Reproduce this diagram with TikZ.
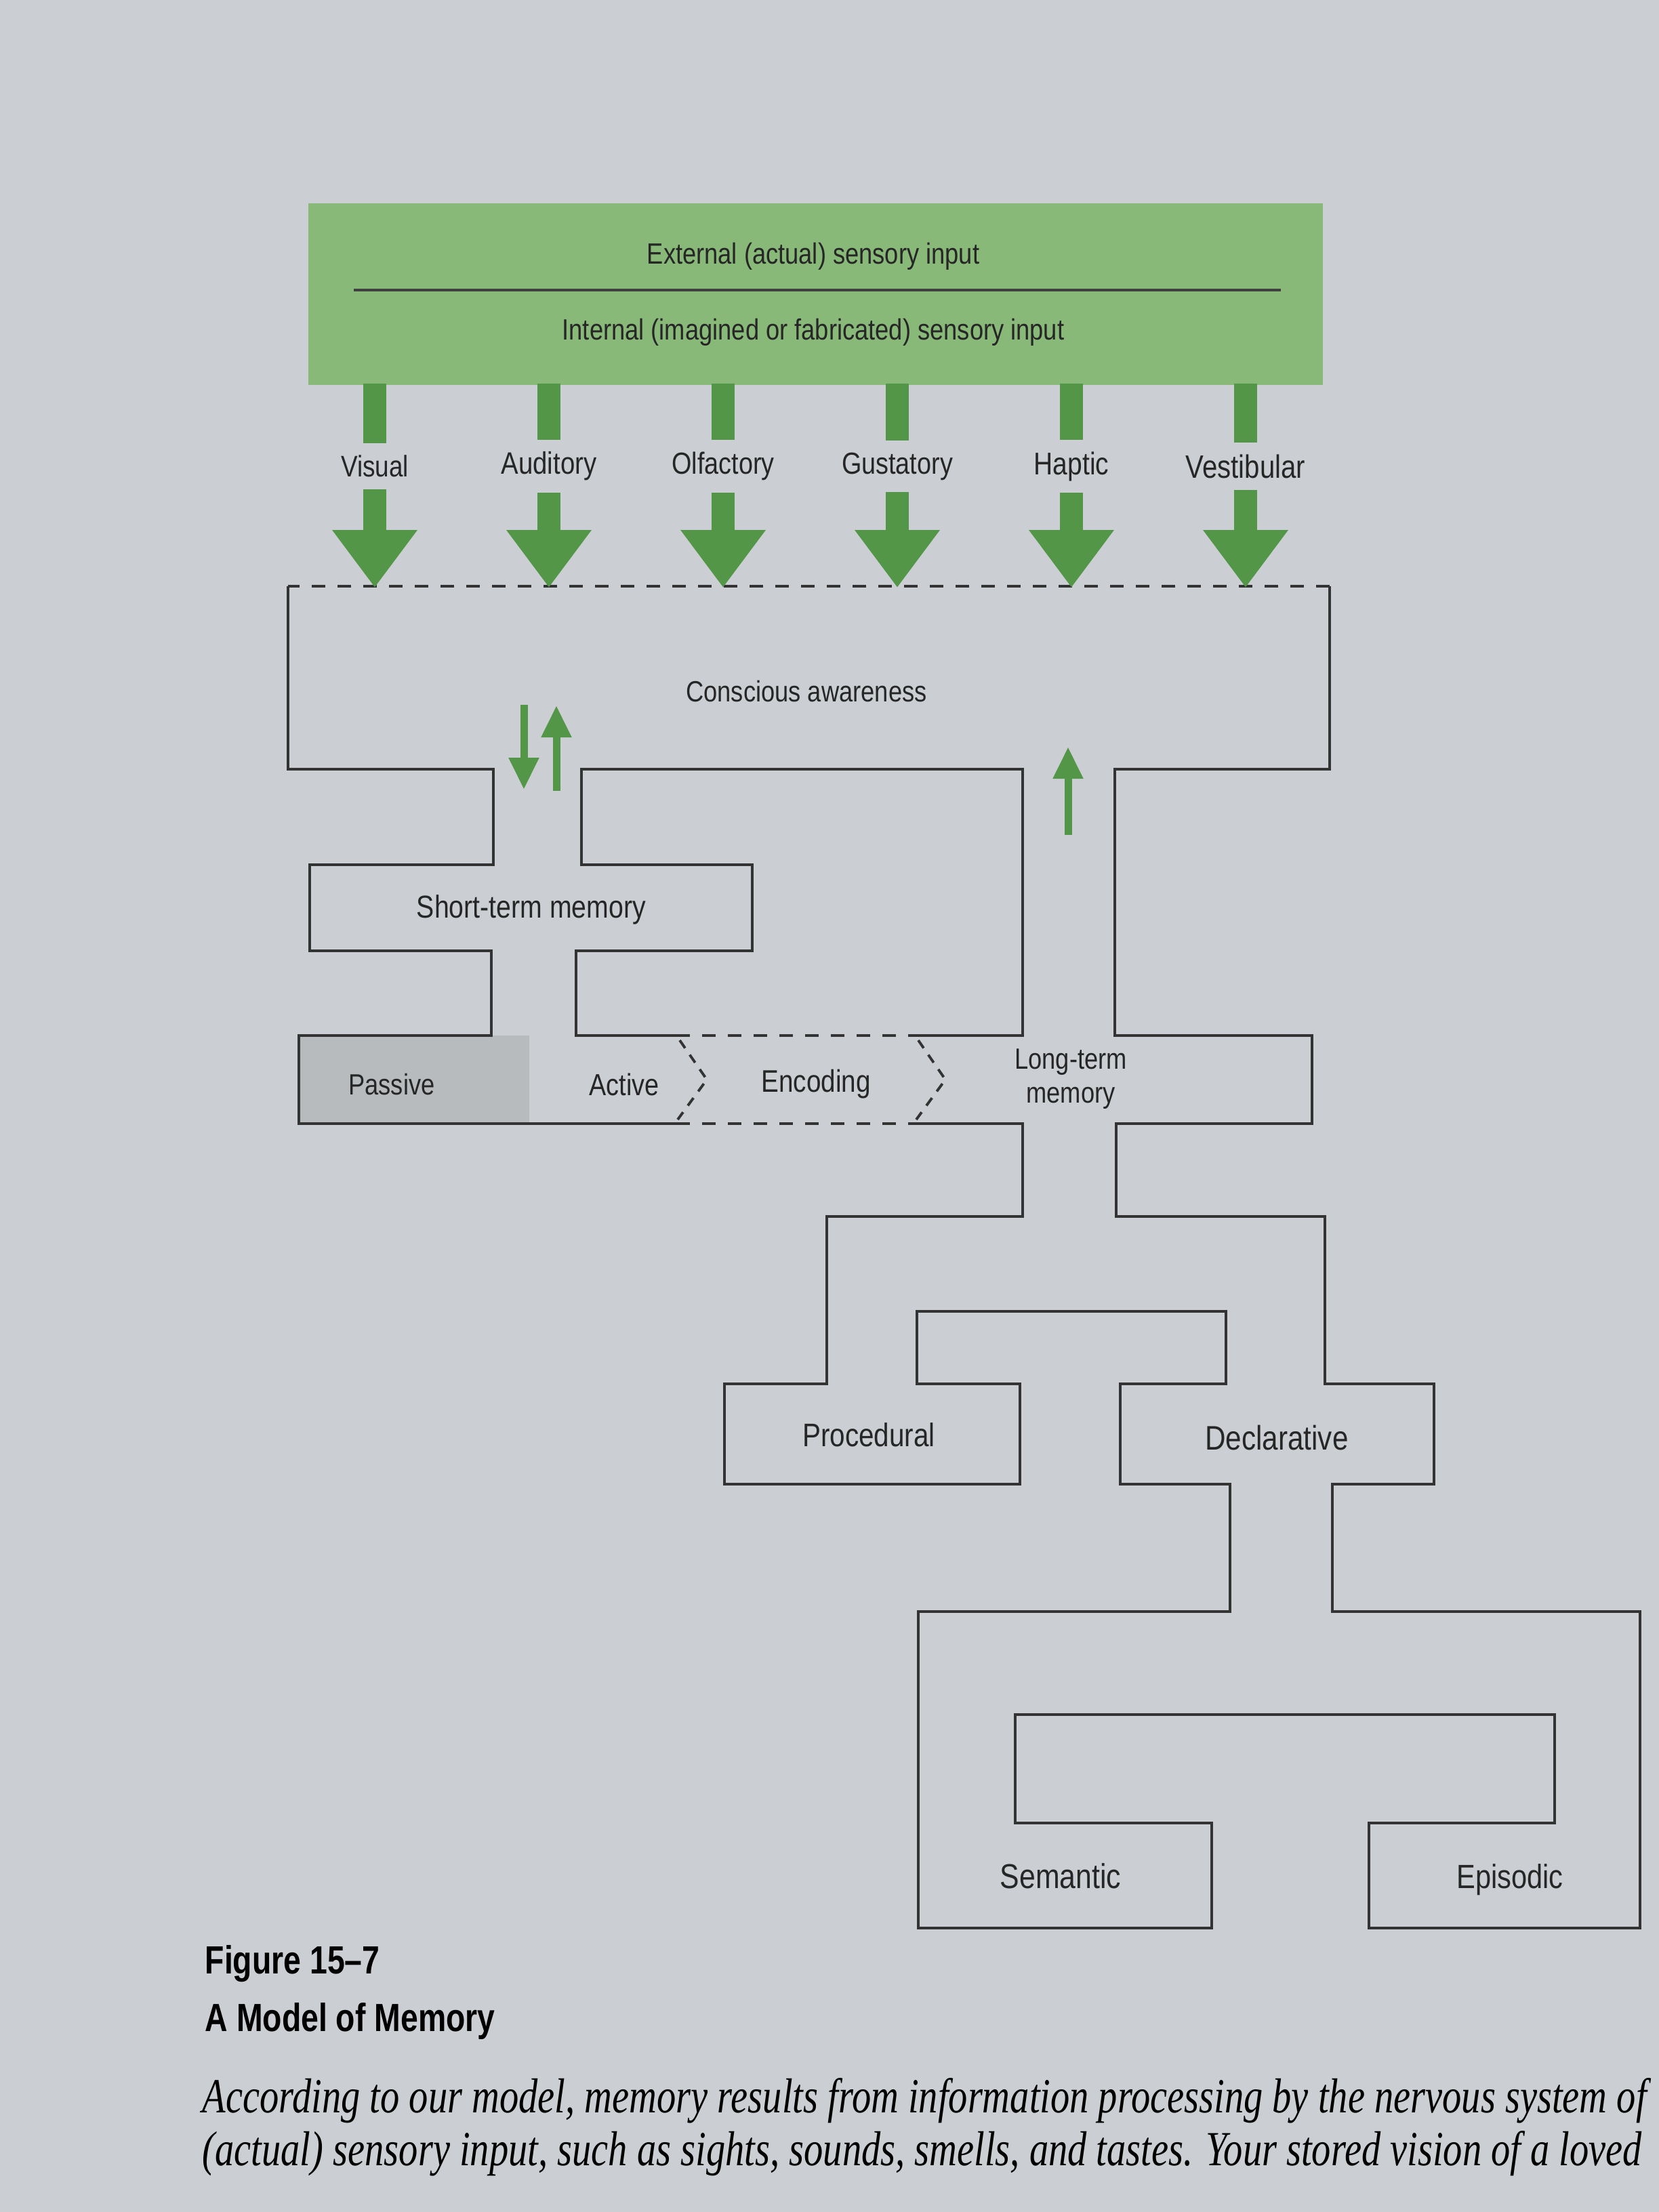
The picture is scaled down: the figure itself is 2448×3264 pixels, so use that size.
\documentclass[tikz,border=0pt]{standalone}
\usepackage{fontspec}
\setmainfont{Liberation Sans}[FakeStretch=0.84]
\newfontfamily\capfont{Liberation Sans}[FakeStretch=0.8]
\newfontfamily\bodyfont{Liberation Serif}[FakeStretch=0.78]
\usetikzlibrary{arrows.meta}
\definecolor{paper}{RGB}{203,207,211}
\definecolor{passivegray}{RGB}{184,187,190}
\definecolor{bandgreen}{RGB}{137,185,120}
\definecolor{arrowgreen}{RGB}{83,150,72}
\tikzset{
  lbl/.style={font=\fontsize{12.3}{14}\selectfont, text=black!85, align=center},
  lblat/.style={font=\fontsize{#1}{#1}\selectfont, text=black!85, align=center},
  wall/.style={line width=1.1pt, black!80, line join=miter},
  gap/.style={wall, dash pattern=on 0.2cm off 0.18cm},
  chev/.style={wall, dash pattern=on 0.14cm off 0.12cm},
  sense/.style={arrowgreen, line width=0.34cm, -{Triangle[width=1.2cm,length=0.85cm]}},
  flow/.style={arrowgreen, line width=0.11cm, -{Triangle[width=0.42cm,length=0.47cm]}},
}

\begin{document}
\begin{tikzpicture}[x=0.1mm,y=-0.1mm]
\useasboundingbox (0,0) rectangle (2448,3264);
\fill[paper] (0,0) rectangle (2448,3264);

% sensory input band
\fill[bandgreen] (455,300) rectangle (1952,568);
\node[lbl] (ext) at (1200,378) {External (actual) sensory input};
\draw[line width=0.9pt, black!75] (522,428) -- (1890,428);
\node[lbl] (int) at (1200,490) {Internal (imagined or fabricated) sensory input};

% passive part of the band
\fill[passivegray] (441,1528) rectangle (781,1658);

% outer wall
\draw[gap] (1962,865) -- (425,865);
\draw[wall] (425,865) -- (425,1135) -- (728,1135) -- (728,1276) -- (457,1276) -- (457,1403)
  -- (725,1403) -- (725,1528) -- (441,1528) -- (441,1658) -- (998,1658);
\draw[gap] (998,1658) -- (1352,1658);
\draw[wall] (1352,1658) -- (1509,1658) -- (1509,1795) -- (1220,1795) -- (1220,2042)
  -- (1069,2042) -- (1069,2190) -- (1505,2190) -- (1505,2042) -- (1353,2042) -- (1353,1935)
  -- (1809,1935) -- (1809,2042) -- (1653,2042) -- (1653,2190) -- (1815,2190) -- (1815,2378)
  -- (1355,2378) -- (1355,2845) -- (1788,2845) -- (1788,2690) -- (1498,2690) -- (1498,2530)
  -- (2294,2530) -- (2294,2690) -- (2020,2690) -- (2020,2845) -- (2420,2845) -- (2420,2378)
  -- (1966,2378) -- (1966,2190) -- (2116,2190) -- (2116,2042) -- (1955,2042) -- (1955,1795)
  -- (1647,1795) -- (1647,1658) -- (1936,1658) -- (1936,1528) -- (1645,1528) -- (1645,1135)
  -- (1962,1135) -- (1962,865);

% inner wall
\draw[wall] (1352,1528) -- (1509,1528) -- (1509,1135) -- (858,1135) -- (858,1276)
  -- (1110,1276) -- (1110,1403) -- (850,1403) -- (850,1528) -- (998,1528);
\draw[gap] (998,1528) -- (1352,1528);

% encoding
\draw[chev] (1003,1535) -- (1043,1593) -- (1000,1652);
\draw[chev] (1355,1535) -- (1395,1593) -- (1352,1652);

% senses
\foreach \x/\nm/\txt/\fs in {553/vis/Visual/12.5, 810/aud/Auditory/13, 1067/olf/Olfactory/12.8,
                          1324/gus/Gustatory/12.8, 1581/hap/Haptic/13.2, 1838/ves/Vestibular/13.6} {
  \coordinate (\nm-s) at (\x,566);
  \coordinate (\nm-t) at (\x,867);
  \draw[sense] (\nm-s) -- (\nm-t);
  \node[lblat=\fs, fill=paper, inner xsep=2pt, inner ysep=5pt] (\nm) at (\x,688) {\txt};
}

% stores
\node[lbl] (ca) at (1190,1020) {Conscious awareness};
\node[lblat=13.3] (stm) at (784,1342) {Short-term memory};
\node[lbl] (pas) at (578,1600) {Passive};
\node[lblat=12.8] (act) at (921,1600) {Active};
\node[lblat=13.1] (enc) at (1204,1600) {Encoding};
\node[lbl] (ltm) at (1580,1592) {Long-term\\memory};
\node[lblat=13.7] (proc) at (1282,2117) {Procedural};
\node[lblat=14.3] (decl) at (1884,2122) {Declarative};
\node[lblat=14.5] (sem) at (1565,2768) {Semantic};
\node[lblat=14.1] (epi) at (2228,2774) {Episodic};

% flows
\coordinate (dn-s) at (773,1040);
\coordinate (dn-t) at (773,1165);
\coordinate (up-s) at (821,1167);
\coordinate (up-t) at (821,1041);
\coordinate (lt-s) at (1576,1232);
\coordinate (lt-t) at (1576,1102);
\draw[flow] (dn-s) -- (dn-t);
\draw[flow] (up-s) -- (up-t);
\draw[flow] (lt-s) -- (lt-t);

% caption
\node[anchor=west, inner sep=0, font=\capfont\bfseries\fontsize{16.5}{20}\selectfont] (fig) at (302,2898) {Figure 15–7};
\node[anchor=west, inner sep=0, font=\capfont\bfseries\fontsize{16.5}{20}\selectfont] (ttl) at (302,2982) {A Model of Memory};
\node[anchor=west, inner sep=0, font=\bodyfont\itshape\fontsize{20.6}{24}\selectfont] (ln1) at (298,3100)
  {According to our model, memory results from information processing by the nervous system of};
\node[anchor=west, inner sep=0, font=\bodyfont\itshape\fontsize{20.6}{24}\selectfont] (ln2) at (298,3178)
  {(actual) sensory input, such as sights, sounds, smells, and tastes. Your stored vision of a loved};
\end{tikzpicture}
\end{document}
